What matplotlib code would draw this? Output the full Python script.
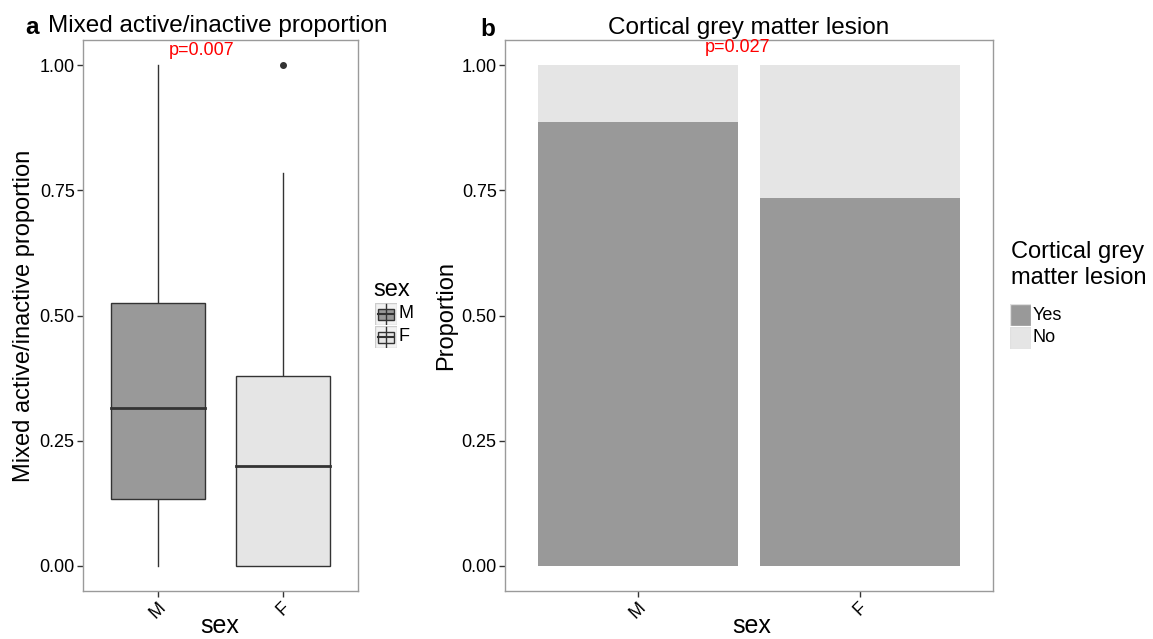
import numpy as np
import matplotlib.pyplot as plt
from matplotlib.patches import Rectangle

plt.rcParams['font.family'] = ['Liberation Sans', 'DejaVu Sans']

# datos panel a (resumen de cajas)
sexos = ['M', 'F']
q1 = [0.134, 0.0]
mediana = [0.315, 0.20]
q3 = [0.525, 0.379]
bigote_inf = [0.0, 0.0]
bigote_sup = [1.0, 0.784]
atipicos = [[], [1.0]]
colores_caja = ['#999999', '#e5e5e5']

# datos panel b
prop_si = [0.887, 0.735]
prop_no = [1 - p for p in prop_si]
col_si = '#999999'
col_no = '#e5e5e5'

W, H = 1153, 639
fig = plt.figure(figsize=(W / 100, H / 100), dpi=100)


def ejes(x0, y0, x1, y1):
    return fig.add_axes([x0 / W, 1 - y1 / H, (x1 - x0) / W, (y1 - y0) / H])


def estilo(ax, xc):
    for s in ax.spines.values():
        s.set_color('#9a9a9a')
        s.set_linewidth(1.0)
    ax.tick_params(colors='#333333', labelcolor='black', length=4, width=1, labelsize=13)
    ax.tick_params(axis='x', pad=2)
    ax.tick_params(axis='y', pad=2)
    ax.set_ylim(-0.05, 1.05)
    ax.set_yticks([0, 0.25, 0.5, 0.75, 1.0])
    ax.set_yticklabels(['0.00', '0.25', '0.50', '0.75', '1.00'])
    ax.set_xlim(0.4, 2.6)
    ax.set_xticks([1, 2])
    ax.set_xticklabels(sexos, rotation=45, ha='center', va='top')
    fig.text(xc / W, 1 - 626 / H, 'sex', fontsize=18, ha='center', va='center')


# ---------------- panel a
ax1 = ejes(83, 40, 358, 591)
estilo(ax1, 220)
pos = [1, 2]
ancho = 0.75
for i in range(2):
    x = pos[i]
    ax1.plot([x, x], [bigote_inf[i], q1[i]], color='#333333', lw=1)
    ax1.plot([x, x], [q3[i], bigote_sup[i]], color='#333333', lw=1)
    ax1.add_patch(Rectangle((x - ancho / 2, q1[i]), ancho, q3[i] - q1[i],
                            facecolor=colores_caja[i], edgecolor='#333333', lw=1, zorder=2))
    ax1.plot([x - ancho / 2, x + ancho / 2], [mediana[i], mediana[i]], color='#333333', lw=2, zorder=3)
    for o in atipicos[i]:
        ax1.plot(x, o, 'o', color='#333333', ms=4)
ax1.set_ylabel('Mixed active/inactive proportion', fontsize=17, labelpad=3)
ax1.text(1.35, 1.03, 'p=0.007', color='red', fontsize=13, ha='center', va='center')
fig.text(25 / W, 1 - 28 / H, 'a', fontsize=17.5, fontweight='bold', va='center')
fig.text(48 / W, 1 - 26 / H, 'Mixed active/inactive proportion', fontsize=17.5, va='center')

# leyenda a
fig.text(373 / W, 1 - 290 / H, 'sex', fontsize=17, va='center')
for k in range(2):
    yc = 314 + k * 23
    axk = ejes(375, yc - 11, 397, yc + 11)
    axk.set_xlim(0, 1)
    axk.set_ylim(0, 1)
    axk.axis('off')
    axk.add_patch(Rectangle((0, 0), 1, 1, facecolor='#f2f2f2', edgecolor='#cccccc', lw=1))
    axk.plot([0.5, 0.5], [0.05, 0.95], color='#333333', lw=1)
    axk.add_patch(Rectangle((0.12, 0.25), 0.76, 0.5, facecolor=colores_caja[k], edgecolor='#333333', lw=1))
    axk.plot([0.12, 0.88], [0.5, 0.5], color='#333333', lw=1.5)
    fig.text(399 / W, 1 - yc / H, sexos[k], fontsize=13, va='center')

# ---------------- panel b
ax2 = ejes(505, 40, 993, 591)
estilo(ax2, 752)
ax2.bar(pos, prop_si, width=0.9, color=col_si)
ax2.bar(pos, prop_no, width=0.9, bottom=prop_si, color=col_no)
ax2.set_ylabel('Proportion', fontsize=17, labelpad=3)
ax2.set_title('Cortical grey matter lesion', fontsize=17.5, pad=4)
ax2.text(1.45, 1.036, 'p=0.027', color='red', fontsize=13, ha='center', va='center')
fig.text(480 / W, 1 - 30 / H, 'b', fontsize=17.5, fontweight='bold', va='center')

# leyenda b
fig.text(1011 / W, 1 - 265 / H, 'Cortical grey\nmatter lesion', fontsize=17, va='center', linespacing=1.2)
for k, (lab, c) in enumerate([('Yes', col_si), ('No', col_no)]):
    yc = 315 + k * 23
    axk = ejes(1010, yc - 11, 1031, yc + 11)
    axk.set_xlim(0, 1)
    axk.set_ylim(0, 1)
    axk.axis('off')
    axk.add_patch(Rectangle((0, 0), 1, 1, facecolor=c, edgecolor='#e0e0e0', lw=1))
    fig.text(1033 / W, 1 - yc / H, lab, fontsize=13, va='center')

fig.savefig('out.png', dpi=100)
